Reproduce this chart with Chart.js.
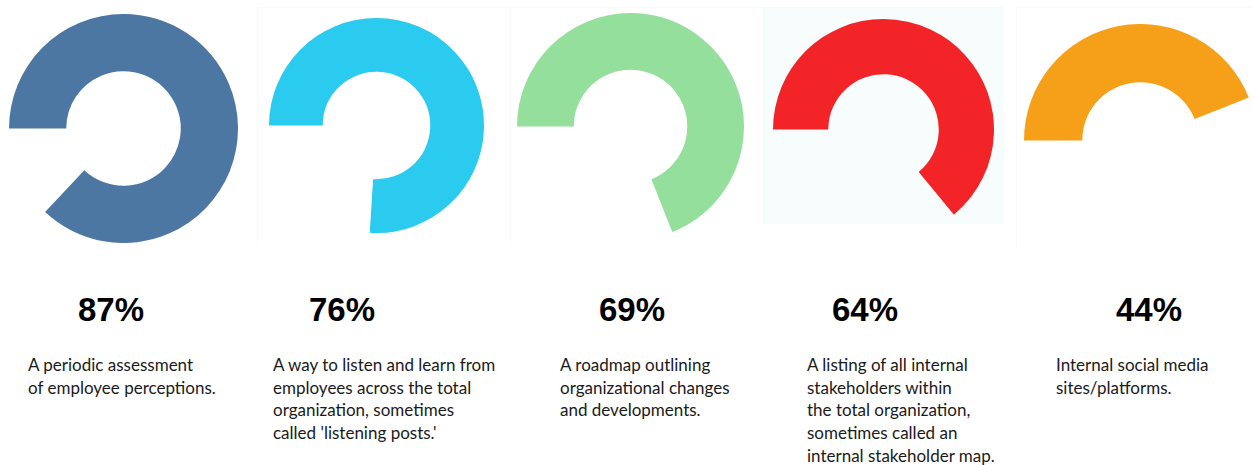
<!DOCTYPE html>
<html>
<head>
<meta charset="utf-8">
<script src="https://cdn.jsdelivr.net/npm/chart.js@4.4.0/dist/chart.umd.min.js"></script>
<style>
    html, body {
        margin: 0;
        padding: 0;
        width: 1252px;
        height: 465px;
        overflow: hidden;
        background: #ffffff;
    }
    .panel {
        position: absolute;
    }
    .ring {
        position: absolute;
    }
    .pct {
        position: absolute;
        top: 292px;
        width: 140px;
        margin-left: -70px;
        text-align: center;
        font-family: "Liberation Sans", Arial, sans-serif;
        font-weight: bold;
        font-size: 33px;
        line-height: 36px;
        color: #000;
    }
    .desc {
        position: absolute;
        top: 354px;
        font-family: Lato, "Open Sans", sans-serif;
        font-size: 17px;
        line-height: 22.7px;
        color: #1a1a1a;
        white-space: nowrap;
    }
</style>
</head>
<body>
<div id="stage"></div>
<script>
// 응답 비율 (%)
const values = [87, 76, 69, 64, 44];
const pctLabels = values.map(v => `${v}%`);
const descriptions = [
    ['A periodic assessment', 'of employee perceptions.'],
    ['A way to listen and learn from', 'employees across the total', 'organization, sometimes', "called 'listening posts.'"],
    ['A roadmap outlining', 'organizational changes', 'and developments.'],
    ['A listing of all internal', 'stakeholders within', 'the total organization,', 'sometimes called an', 'internal stakeholder map.'],
    ['Internal social media', 'sites/platforms.']
];
const colors = ['#4d77a3', '#2acbef', '#94df9c', '#f32427', '#f69f18'];

// 각 도넛 위치와 크기 (px)
const layout = [
    { left: 9,      top: 14,   size: 229, pctX: 111,  descX: 28 },
    { left: 268.5,  top: 17.5, size: 215, pctX: 342,  descX: 273 },
    { left: 517.4,  top: 12.6, size: 227, pctX: 632,  descX: 560 },
    { left: 772.7,  top: 19,   size: 221, pctX: 865,  descX: 807 },
    { left: 1024.3, top: 24,   size: 233, pctX: 1149, descX: 1056 }
];

// 배경 패널 (아주 옅은 테두리/배경)
const panels = [
    { left: 257, top: 7, width: 253, height: 236, bg: '#ffffff', border: '#fafafa' },
    { left: 510, top: 7, width: 252, height: 236, bg: '#ffffff', border: '#f9fbfb' },
    { left: 763, top: 7, width: 240, height: 216, bg: '#f7fdfd', border: '#f5fbfb' },
    { left: 1016, top: 7, width: 240, height: 240, bg: '#ffffff', border: '#fafafa' }
];

const stage = document.getElementById('stage');

panels.forEach(p => {
    const div = document.createElement('div');
    div.className = 'panel';
    div.style.left = p.left + 'px';
    div.style.top = p.top + 'px';
    div.style.width = p.width + 'px';
    div.style.height = p.height + 'px';
    div.style.background = p.bg;
    div.style.borderTop = `1px solid ${p.border}`;
    div.style.borderLeft = `1px solid ${p.border}`;
    stage.appendChild(div);
});

values.forEach((value, index) => {
    const box = layout[index];

    const wrap = document.createElement('div');
    wrap.className = 'ring';
    wrap.style.left = box.left + 'px';
    wrap.style.top = box.top + 'px';
    wrap.style.width = box.size + 'px';
    wrap.style.height = box.size + 'px';
    const canvas = document.createElement('canvas');
    wrap.appendChild(canvas);
    stage.appendChild(wrap);

    new Chart(canvas.getContext('2d'), {
        type: 'doughnut',
        data: {
            labels: ['yes', 'rest'],
            datasets: [{
                data: [value, 100 - value],
                backgroundColor: [colors[index], 'rgba(0,0,0,0)'],
                borderWidth: 0
            }]
        },
        options: {
            responsive: true,
            maintainAspectRatio: false,
            animation: false,
            rotation: -90, // 9시 방향에서 시작
            cutout: '50%',
            events: [],
            plugins: {
                legend: { display: false },
                tooltip: { enabled: false }
            }
        }
    });

    const pct = document.createElement('div');
    pct.className = 'pct';
    pct.style.left = box.pctX + 'px';
    pct.textContent = pctLabels[index];
    stage.appendChild(pct);

    const desc = document.createElement('div');
    desc.className = 'desc';
    desc.style.left = box.descX + 'px';
    desc.innerHTML = descriptions[index].join('<br>');
    stage.appendChild(desc);
});
</script>
</body>
</html>
